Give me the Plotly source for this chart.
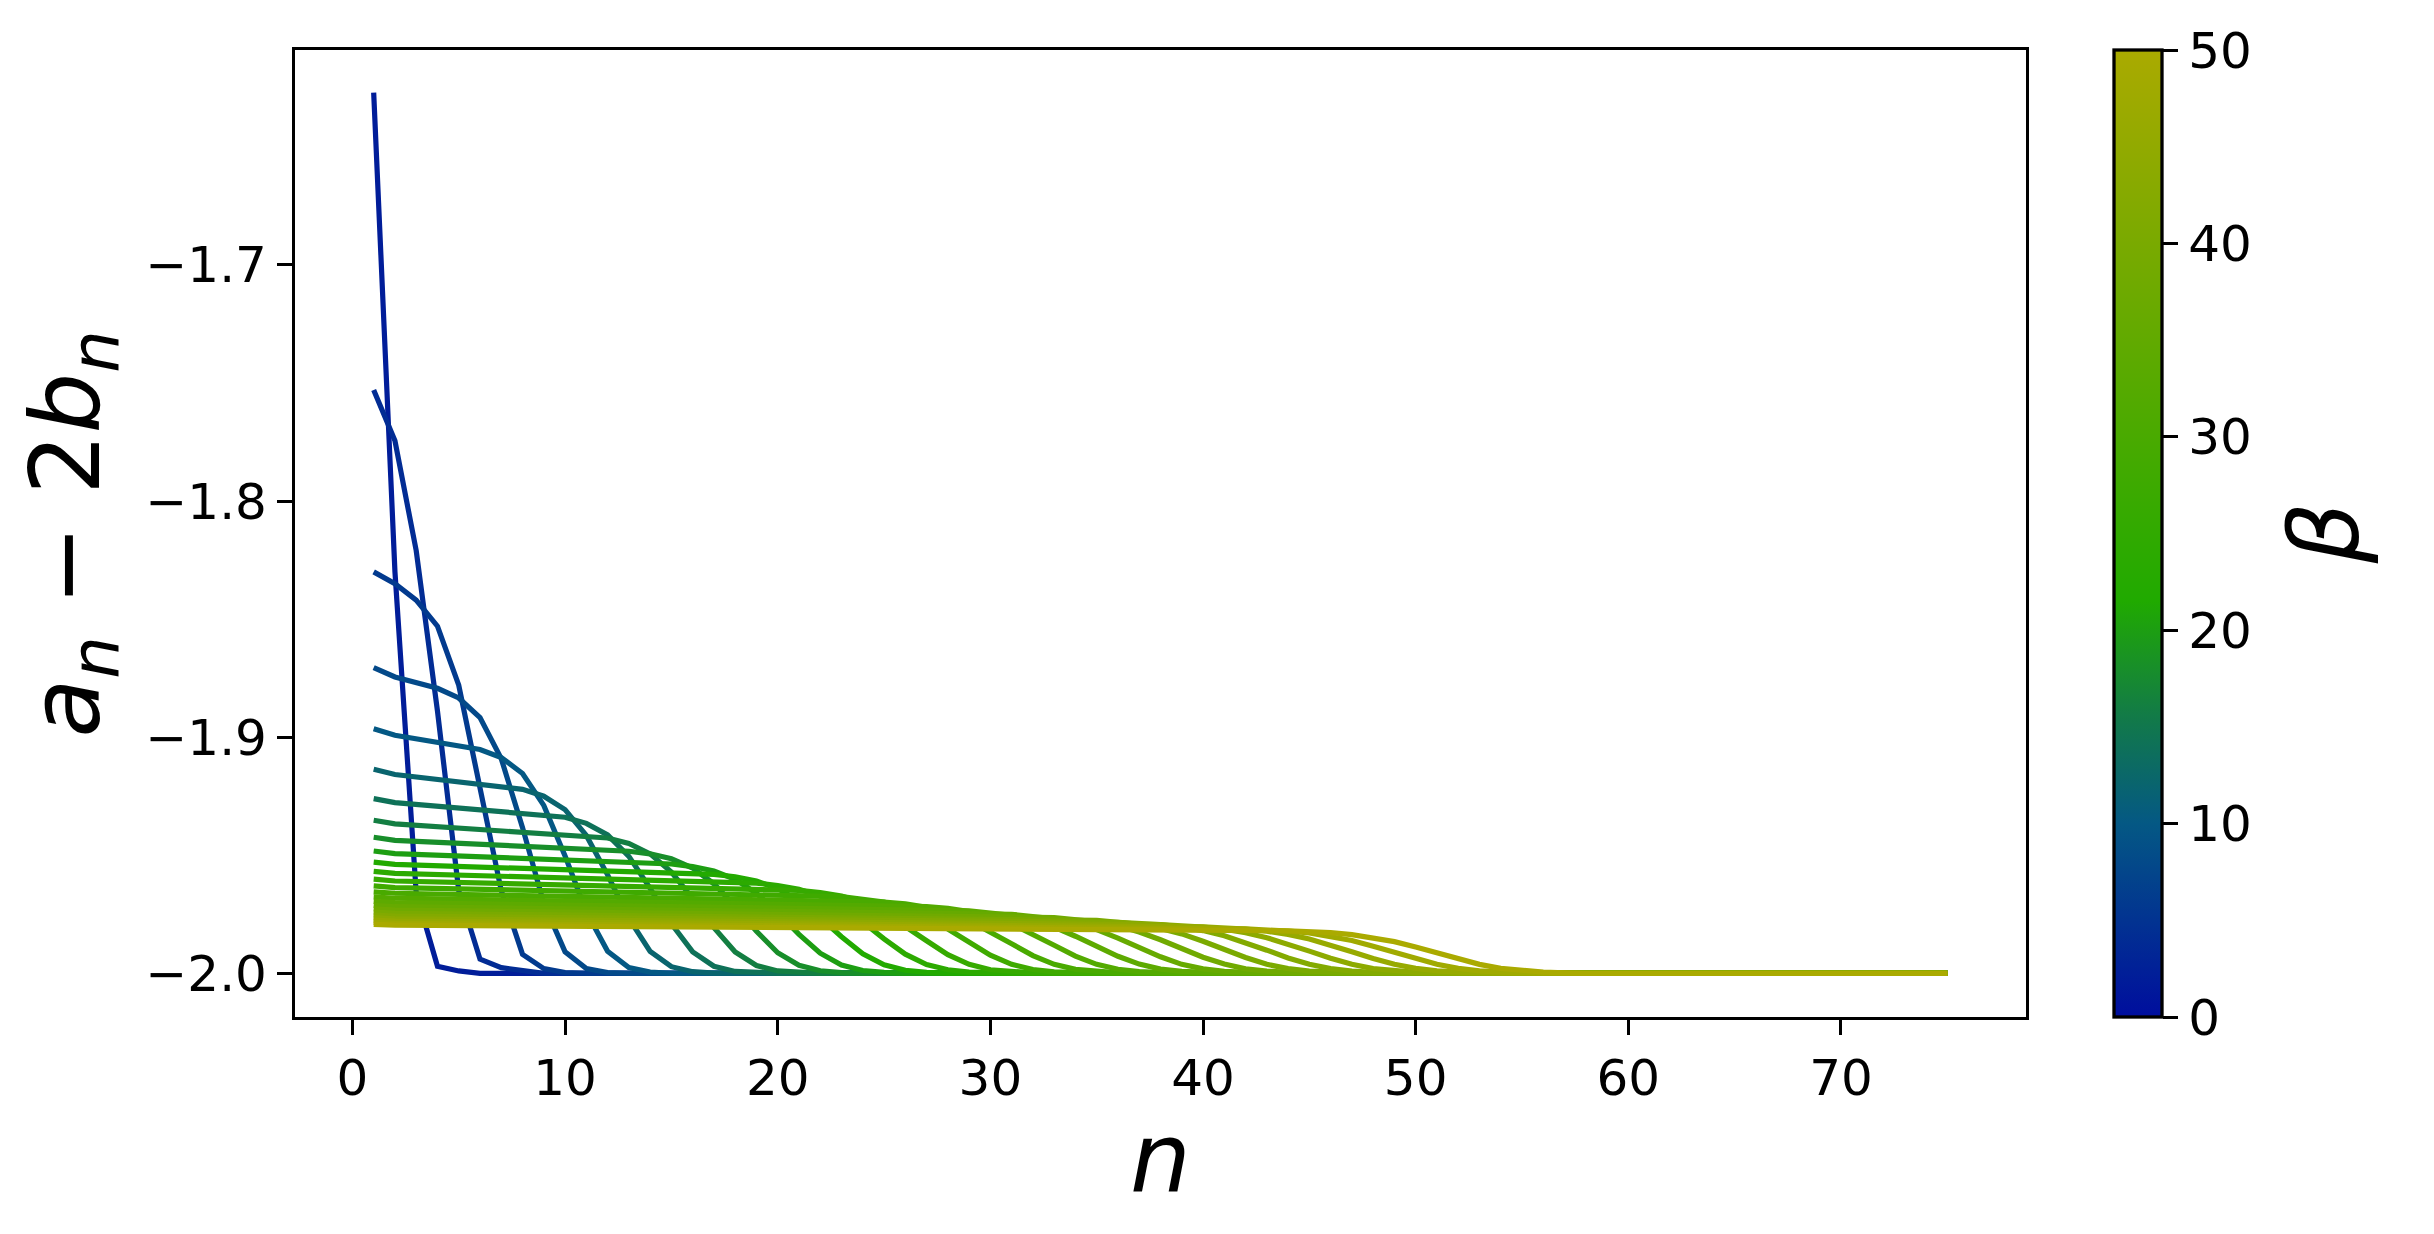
import plotly.graph_objects as go

# one curve per beta (n, a_n - 2b_n)
betas = [2, 4, 6, 8, 10, 12, 14, 16, 18, 20, 22, 24, 26, 28, 30, 32, 34, 36, 38, 40, 42, 44, 46, 48, 50]

n_b02 = [1, 2, 3, 4, 5, 6, 75]
v_b02 = [-1.627, -1.830, -1.966, -1.997, -1.999, -2.0, -2.0]

n_b04 = [1, 2, 3, 4, 5, 6, 7, 8, 9, 75]
v_b04 = [-1.753, -1.7745, -1.821, -1.889, -1.965, -1.994, -1.9976, -1.999, -2.0, -2.0]

n_b06 = [1, 2, 3, 4, 5, 6, 7, 8, 9, 10, 11, 75]
v_b06 = [-1.830, -1.835, -1.842, -1.853, -1.878, -1.921, -1.965, -1.992, -1.998, -1.9997, -2.0, -2.0]

n_b08 = [1, 2, 4, 5, 6, 7, 8, 9, 10, 11, 12, 13, 75]
v_b08 = [-1.8705, -1.8745, -1.8793, -1.8834, -1.8917, -1.9091, -1.9383, -1.9704, -1.9909, -1.998, -1.9997, -2.0, -2.0]

n_b10 = [1, 2, 6, 7, 8, 9, 10, 11, 12, 13, 14, 15, 75]
v_b10 = [-1.8964, -1.8992, -1.9052, -1.9086, -1.9154, -1.9289, -1.9503, -1.9740, -1.9907, -1.9976, -1.9995, -2.0, -2.0]

n_b12 = [1, 2, 8, 9, 10, 11, 12, 13, 14, 15, 16, 17, 75]
v_b12 = [-1.9136, -1.9158, -1.9221, -1.9250, -1.9307, -1.9416, -1.9583, -1.9768, -1.9907, -1.9972, -1.9993, -1.9999, -2.0]

n_b14 = [1, 2, 10, 11, 12, 13, 14, 15, 16, 17, 18, 19, 20, 75]
v_b14 = [-1.9260, -1.9277, -1.9339, -1.9365, -1.9414, -1.9505, -1.9640, -1.9790, -1.9909, -1.9970, -1.9992, -1.9998, -2.0, -2.0]

n_b16 = [1, 2, 12, 13, 14, 15, 16, 17, 18, 19, 20, 21, 22, 75]
v_b16 = [-1.9352, -1.9367, -1.9427, -1.9450, -1.9494, -1.9571, -1.9683, -1.9807, -1.9910, -1.9967, -1.9990, -1.9997, -2.0, -2.0]

n_b18 = [1, 2, 13, 14, 15, 16, 17, 18, 19, 20, 21, 22, 23, 24, 75]
v_b18 = [-1.9424, -1.9437, -1.9483, -1.9494, -1.9515, -1.9554, -1.9621, -1.9716, -1.9822, -1.9913, -1.9966, -1.9989, -1.9997, -2.0, -2.0]

n_b20 = [1, 2, 15, 16, 17, 18, 19, 20, 21, 22, 23, 24, 25, 26, 75]
v_b20 = [-1.9482, -1.9493, -1.9537, -1.9548, -1.9567, -1.9602, -1.9661, -1.9743, -1.9835, -1.9915, -1.9965, -1.9988, -1.9996, -2.0, -2.0]

n_b22 = [1, 2, 17, 18, 19, 20, 21, 22, 23, 24, 25, 26, 27, 28, 75]
v_b22 = [-1.9529, -1.9539, -1.9581, -1.9591, -1.9609, -1.9641, -1.9693, -1.9765, -1.9845, -1.9917, -1.9964, -1.9987, -1.9996, -1.9999, -2.0]

n_b24 = [1, 2, 19, 20, 21, 22, 23, 24, 25, 26, 27, 28, 29, 30, 31, 75]
v_b24 = [-1.9568, -1.9577, -1.9618, -1.9628, -1.9644, -1.9673, -1.9720, -1.9783, -1.9854, -1.9919, -1.9963, -1.9985, -1.9995, -1.9998, -2.0, -2.0]

n_b26 = [1, 2, 21, 22, 23, 24, 25, 26, 27, 28, 29, 30, 31, 32, 33, 75]
v_b26 = [-1.9601, -1.9609, -1.9649, -1.9658, -1.9673, -1.9700, -1.9742, -1.9799, -1.9862, -1.9921, -1.9962, -1.9985, -1.9994, -1.9998, -2.0, -2.0]

n_b28 = [1, 2, 23, 24, 25, 26, 27, 28, 29, 30, 31, 32, 33, 34, 35, 75]
v_b28 = [-1.9630, -1.9637, -1.9675, -1.9684, -1.9698, -1.9723, -1.9761, -1.9812, -1.9869, -1.9923, -1.9962, -1.9984, -1.9994, -1.9998, -2.0, -2.0]

n_b30 = [1, 2, 25, 26, 27, 28, 29, 30, 31, 32, 33, 34, 35, 36, 37, 75]
v_b30 = [-1.9655, -1.9661, -1.9698, -1.9706, -1.9720, -1.9742, -1.9777, -1.9824, -1.9875, -1.9925, -1.9962, -1.9983, -1.9993, -1.9998, -2.0, -2.0]

n_b32 = [1, 2, 27, 28, 29, 30, 31, 32, 33, 34, 35, 36, 37, 38, 39, 75]
v_b32 = [-1.9676, -1.9682, -1.9718, -1.9725, -1.9738, -1.9759, -1.9791, -1.9834, -1.9881, -1.9927, -1.9962, -1.9983, -1.9993, -1.9997, -2.0, -2.0]

n_b34 = [1, 2, 29, 30, 31, 32, 33, 34, 35, 36, 37, 38, 39, 40, 41, 75]
v_b34 = [-1.9695, -1.9701, -1.9735, -1.9742, -1.9754, -1.9774, -1.9804, -1.9843, -1.9886, -1.9928, -1.9961, -1.9982, -1.9992, -1.9997, -1.9999, -2.0]

n_b36 = [1, 2, 31, 32, 33, 34, 35, 36, 37, 38, 39, 40, 41, 42, 43, 44, 75]
v_b36 = [-1.9712, -1.9718, -1.9750, -1.9757, -1.9769, -1.9787, -1.9815, -1.9851, -1.9891, -1.9930, -1.9962, -1.9981, -1.9992, -1.9997, -1.9999, -2.0, -2.0]

n_b38 = [1, 2, 33, 34, 35, 36, 37, 38, 39, 40, 41, 42, 43, 44, 45, 46, 75]
v_b38 = [-1.9727, -1.9732, -1.9764, -1.9771, -1.9782, -1.9799, -1.9825, -1.9858, -1.9895, -1.9932, -1.9961, -1.9981, -1.9991, -1.9996, -1.9999, -2.0, -2.0]

n_b40 = [1, 2, 35, 36, 37, 38, 39, 40, 41, 42, 43, 44, 45, 46, 47, 48, 75]
v_b40 = [-1.9741, -1.9746, -1.9776, -1.9783, -1.9793, -1.9810, -1.9833, -1.9864, -1.9899, -1.9933, -1.9962, -1.9980, -1.9991, -1.9996, -1.9998, -2.0, -2.0]

n_b42 = [1, 2, 36, 37, 38, 39, 40, 41, 42, 43, 44, 45, 46, 47, 48, 49, 50, 75]
v_b42 = [-1.9753, -1.9758, -1.9784, -1.9788, -1.9794, -1.9804, -1.9819, -1.9841, -1.9870, -1.9902, -1.9935, -1.9962, -1.9980, -1.9991, -1.9996, -1.9998, -2.0, -2.0]

n_b44 = [1, 2, 38, 39, 40, 41, 42, 43, 44, 45, 46, 47, 48, 49, 50, 51, 52, 75]
v_b44 = [-1.9764, -1.9769, -1.9794, -1.9798, -1.9804, -1.9813, -1.9828, -1.9849, -1.9876, -1.9906, -1.9936, -1.9962, -1.9980, -1.9990, -1.9996, -1.9998, -2.0, -2.0]

n_b46 = [1, 2, 40, 41, 42, 43, 44, 45, 46, 47, 48, 49, 50, 51, 52, 53, 54, 75]
v_b46 = [-1.9775, -1.9779, -1.9803, -1.9807, -1.9813, -1.9822, -1.9835, -1.9855, -1.9880, -1.9909, -1.9937, -1.9962, -1.9979, -1.9990, -1.9995, -1.9998, -2.0, -2.0]

n_b48 = [1, 2, 42, 43, 44, 45, 46, 47, 48, 49, 50, 51, 52, 53, 54, 55, 56, 75]
v_b48 = [-1.9784, -1.9788, -1.9812, -1.9815, -1.9821, -1.9829, -1.9843, -1.9861, -1.9885, -1.9912, -1.9939, -1.9962, -1.9979, -1.9990, -1.9995, -1.9998, -2.0, -2.0]

n_b50 = [1, 2, 44, 45, 46, 47, 48, 49, 50, 51, 52, 53, 54, 55, 56, 57, 58, 75]
v_b50 = [-1.9793, -1.9796, -1.9820, -1.9823, -1.9828, -1.9836, -1.9849, -1.9866, -1.9889, -1.9914, -1.9940, -1.9962, -1.9979, -1.9989, -1.9995, -1.9998, -2.0, -2.0]

curves = [
    (n_b02, v_b02), (n_b04, v_b04), (n_b06, v_b06), (n_b08, v_b08), (n_b10, v_b10),
    (n_b12, v_b12), (n_b14, v_b14), (n_b16, v_b16), (n_b18, v_b18), (n_b20, v_b20),
    (n_b22, v_b22), (n_b24, v_b24), (n_b26, v_b26), (n_b28, v_b28), (n_b30, v_b30),
    (n_b32, v_b32), (n_b34, v_b34), (n_b36, v_b36), (n_b38, v_b38), (n_b40, v_b40),
    (n_b42, v_b42), (n_b44, v_b44), (n_b46, v_b46), (n_b48, v_b48), (n_b50, v_b50),
]

x_ticks = [0, 10, 20, 30, 40, 50, 60, 70]
y_ticks = [-2.0, -1.9, -1.8, -1.7]
cbar_ticks = [0, 10, 20, 30, 40, 50]
beta_min, beta_max = 0, 50

# blue -> green -> olive colormap
cmap_nodes = [
    (0.0, (0, 14, 158)),
    (0.2, (4, 88, 132)),
    (0.31, (18, 122, 72)),
    (0.43, (32, 170, 0)),
    (1.0, (170, 170, 0)),
]


def cmap(t):
    for (t0, c0), (t1, c1) in zip(cmap_nodes[:-1], cmap_nodes[1:]):
        if t <= t1:
            f = (t - t0) / (t1 - t0)
            rgb = [round(a + (b - a) * f) for a, b in zip(c0, c1)]
            return "rgb(%d,%d,%d)" % tuple(rgb)
    return "rgb(%d,%d,%d)" % cmap_nodes[-1][1]


colorscale = [[t, "rgb(%d,%d,%d)" % c] for t, c in cmap_nodes]

fig = go.Figure()

for beta, (n, v) in zip(betas, curves):
    fig.add_trace(
        go.Scatter(
            x=n,
            y=v,
            mode="lines",
            line=dict(color=cmap((beta - beta_min) / (beta_max - beta_min)), width=5.2),
            hoverinfo="skip",
            showlegend=False,
        )
    )

# dummy trace only to carry the colorbar
fig.add_trace(
    go.Scatter(
        x=[None],
        y=[None],
        mode="markers",
        showlegend=False,
        hoverinfo="skip",
        marker=dict(
            color=[beta_min],
            colorscale=colorscale,
            cmin=beta_min,
            cmax=beta_max,
            showscale=True,
            colorbar=dict(
                x=1.0508,
                xanchor="left",
                y=0.5,
                yanchor="middle",
                len=1.0,
                lenmode="fraction",
                thickness=48,
                thicknessmode="pixels",
                xpad=0,
                ypad=0,
                outlinewidth=3.3,
                outlinecolor="black",
                ticks="outside",
                ticklen=15,
                tickwidth=3.3,
                tickcolor="black",
                tickvals=cbar_ticks,
                tickfont=dict(size=50, color="black", family="DejaVu Sans"),
            ),
        ),
    )
)

axis_style = dict(
    showline=True,
    linewidth=3.3,
    linecolor="black",
    mirror=True,
    showgrid=False,
    zeroline=False,
    ticks="outside",
    ticklen=15,
    tickwidth=3.3,
    tickcolor="black",
    tickfont=dict(size=50, color="black", family="DejaVu Sans"),
)

# the page body adds an 8px margin, so the figure is a bit smaller and shifted
fig.update_layout(
    width=2418,
    height=1218,
    margin=dict(l=287, r=400, t=42, b=209),
    paper_bgcolor="white",
    plot_bgcolor="white",
    font=dict(family="DejaVu Sans", color="black"),
    showlegend=False,
    xaxis=dict(range=[-2.7, 78.7], tickvals=x_ticks, **axis_style),
    yaxis=dict(range=[-2.0185, -1.6090], tickvals=y_ticks, tickformat=".1f", **axis_style),
    annotations=[
        dict(
            text="<i>a</i><sub><i>n</i></sub> \u2212 2<i>b</i><sub><i>n</i></sub>",
            xref="paper", yref="paper", x=-0.1288, y=0.5,
            xanchor="center", yanchor="middle", textangle=-90, showarrow=False,
            font=dict(size=96, family="DejaVu Sans"),
        ),
        dict(
            text="<i>n</i>",
            xref="paper", yref="paper", x=0.5, y=-0.1458,
            xanchor="center", yanchor="middle", showarrow=False,
            font=dict(size=96, family="DejaVu Sans"),
        ),
        dict(
            text="<i>\u03b2</i>",
            xref="paper", yref="paper", x=1.1722, y=0.5,
            xanchor="center", yanchor="middle", textangle=-90, showarrow=False,
            font=dict(size=96, family="DejaVu Sans"),
        ),
    ],
)

fig.write_html("out.html")
